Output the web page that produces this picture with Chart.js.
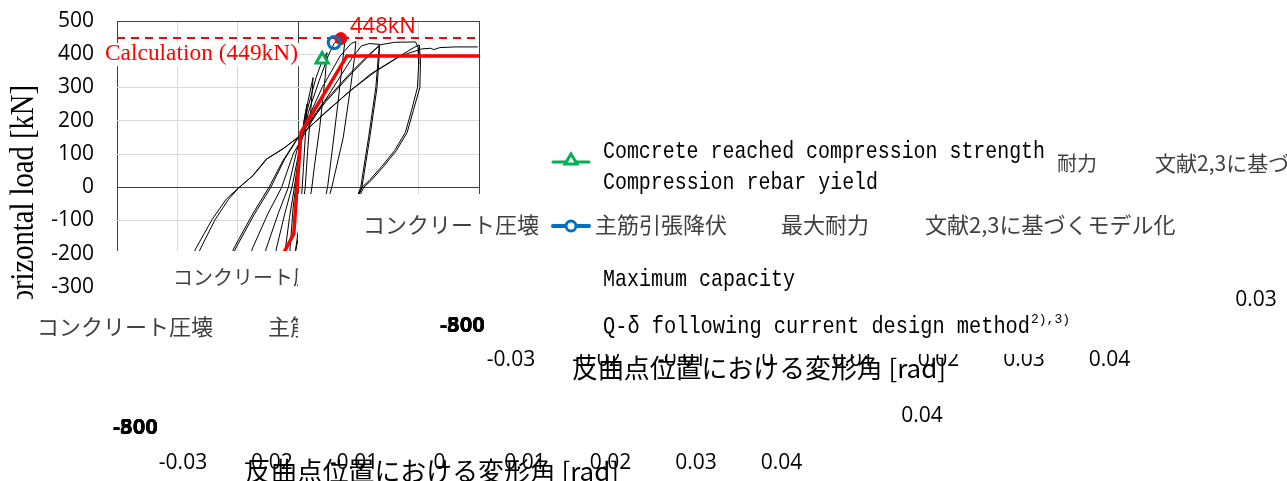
<!DOCTYPE html>
<html lang="ja">
<head>
<meta charset="UTF-8">
<title>Q-δ curve</title>
<script src="https://cdn.jsdelivr.net/npm/chart.js"></script>
<style>
  html, body { margin: 0; padding: 0; background: #fff; }
  #wrap { width: 1287px; height: 481px; }
</style>
</head>
<body>
<div id="wrap"><canvas id="graphique" width="1287" height="481"></canvas></div>
<script>
const testDrift = [
  0, 0.0002, 0.0005, 0.001, 0.0015, 0.0013, 0.0009, 0.0007, 0.0003, -0.0005, -0.0015,
  -0.0013, -0.0008, -0.0004, 0.0003, 0.0012, 0.0025,
  0.0022, 0.0016, 0.0012, 0.0004, -0.0008, -0.0025,
  -0.0024, -0.0021, -0.0014, -0.0006, 0.0004, 0.0015, 0.003, 0.004, 0.0048,
  0.0045, 0.0036, 0.0027, 0.0023, 0.0012, -0.001, -0.0045,
  -0.0041, -0.0036, -0.0022, -0.001, 0.0003, 0.0018, 0.0035, 0.005, 0.006, 0.0071, 0.0078,
  0.0074, 0.0066, 0.0056, 0.0049, 0.0035, 0.001, -0.0068,
  -0.006, -0.0053, -0.0033, -0.0016, -0.0002, 0.0015, 0.004, 0.007, 0.0088, 0.0096,
  0.0093, 0.0087, 0.0075, 0.0056, 0.004, 0.0, -0.0095,
  -0.0088, -0.0076, -0.005, -0.0027, -0.0008, 0.002, 0.0055, 0.009, 0.0105, 0.0118, 0.0135,
  0.0133, 0.0129, 0.0117, 0.0104, 0.008, 0.003, -0.0135,
  -0.0125, -0.0107, -0.0075, -0.0048, -0.0025, 0.0, 0.004, 0.0085, 0.0118, 0.0135,
  0.0134, 0.0131, 0.0119, 0.0106, 0.008, 0.003, -0.0135,
  -0.0124, -0.0104, -0.0072, -0.0045, -0.0022, 0.0, 0.0045, 0.009, 0.012, 0.0135, 0.016, 0.0195,
  0.0199, 0.02, 0.0198, 0.0188, 0.0178, 0.016, 0.0139, 0.0118, 0.0106, 0.008, 0.002, -0.02,
  -0.0185, -0.017, -0.0142, -0.0119, -0.0101, -0.0076, -0.0053, -0.0026, 0.0002, 0.004, 0.008, 0.012, 0.016, 0.0192, 0.0201,
  0.0203, 0.0202, 0.0191, 0.0181, 0.0163, 0.0142, 0.0121, 0.0109, 0.008, 0.002, -0.02,
  -0.0184, -0.0162, -0.0137, -0.0115, -0.0099, -0.0074, -0.0051, -0.0024, 0.0004, 0.0045, 0.009, 0.013, 0.017, 0.0205,
  0.022, 0.0225, 0.0235, 0.026, 0.0298
];
const testLoad = [
  0, 60, 130, 200, 250, 180, 60, 0, -100, -200, -250,
  -180, -60, 0, 110, 220, 330,
  250, 110, 0, -120, -230, -330,
  -260, -186, -90, 0, 130, 230, 330, 380, 405,
  330, 180, 60, 0, -120, -280, -395,
  -280, -186, -80, 0, 120, 230, 320, 395, 433, 447, 444,
  380, 250, 100, 0, -120, -300, -440,
  -280, -186, -80, 0, 110, 200, 300, 395, 432, 438,
  380, 300, 150, 0, -100, -300, -440,
  -300, -186, -80, 0, 100, 190, 290, 390, 425, 432, 430,
  390, 300, 150, 0, -120, -300, -430,
  -300, -186, -80, 0, 80, 150, 250, 340, 400, 425,
  380, 300, 150, 0, -120, -300, -420,
  -300, -186, -80, 0, 85, 148, 255, 345, 400, 428, 436, 437,
  420, 370, 300, 230, 165, 110, 63, 20, 0, -100, -300, -420,
  -280, -186, -96, -36, -6, 33, 84, 114, 153, 215, 280, 340, 385, 420, 428,
  380, 300, 230, 165, 110, 63, 20, 0, -110, -300, -410,
  -280, -186, -96, -36, -3, 36, 86, 117, 155, 225, 295, 350, 395, 416,
  418, 414, 420, 422, 422
];

// model following current design method (文献2,3)
const modelDrift = [-0.0081, -0.0007, 0.0005, 0.0081, 0.03];
const modelLoad = [-395, -140, 165, 395, 395];

// calculated capacity line
const calcDrift = [-0.03, 0.03];
const calcLoad = [449, 449];

// marked events
const crushPoint = [0.004, 384];   // concrete reached compression strength
const yieldPoint = [0.006, 435];   // tensile rebar yield
const maxPoint = [0.0071, 447];    // maximum capacity 448kN

const yMin = -300, yMax = 500, yStep = 100;
const xMin = -0.03, xMax = 0.03, xStep = 0.01;
const xTickLabels = ['-0.03', '-0.02', '-0.01', '0', '0.01', '0.02', '0.03', '0.04'];

function pts(xs, ys) {
  return xs.map((x, i) => ({ x: x, y: ys[i] }));
}

const NUM = '"Open Sans", "Noto Sans", sans-serif';
const JP = '"Noto Sans CJK JP", sans-serif';
const MONO = '"Liberation Mono", "DejaVu Sans Mono", monospace';

function put(c, s, x, y, font, color, align, maxW) {
  c.font = font;
  c.fillStyle = color;
  c.textAlign = align || 'left';
  c.textBaseline = 'middle';
  if (maxW) c.fillText(s, x, y, maxW);
  else c.fillText(s, x, y);
}

function legendLine(c, y, color, w, marker) {
  c.save();
  c.strokeStyle = color;
  c.lineWidth = w;
  c.lineCap = 'round';
  c.beginPath();
  c.moveTo(553, y);
  c.lineTo(589, y);
  c.stroke();
  c.lineWidth = 3;
  c.fillStyle = '#fff';
  c.beginPath();
  if (marker === 'triangle') {
    c.moveTo(571, y - 8);
    c.lineTo(577, y + 2);
    c.lineTo(565, y + 2);
    c.closePath();
  } else {
    c.arc(571, y, 5, 0, Math.PI * 2);
  }
  c.fill();
  c.stroke();
  c.restore();
}

// grid colour: axes at 0 and the plot frame darker
function gridColor(ctx) {
  const v = ctx.tick.value;
  if (Math.abs(v) < 1e-9) return '#404040';
  if (ctx.scale.axis === 'x' && Math.abs(Math.abs(v) - 0.03) < 1e-9) return '#404040';
  if (ctx.scale.axis === 'y' && Math.abs(v - yMax) < 1e-9) return '#404040';
  return '#d9d9d9';
}

const decor = {
  id: 'decor',
  beforeDraw(chart) {
    const c = chart.ctx;
    c.save();
    c.fillStyle = '#fff';
    c.fillRect(0, 0, chart.width, chart.height);
    c.restore();
  },
  afterDraw(chart) {
    const c = chart.ctx;
    c.save();

    // white boxes that hide the lower part of the plot
    c.fillStyle = '#fff';
    c.fillRect(100, 251, 198, 45);
    c.fillRect(298, 194, 1000, 300);

    // y axis title (cut at the bottom)
    c.save();
    c.beginPath();
    c.rect(0, 0, 100, 299);
    c.clip();
    c.translate(33, 85);
    c.rotate(-Math.PI / 2);
    c.font = '34px "Liberation Serif", serif';
    c.fillStyle = '#000';
    c.textAlign = 'right';
    c.textBaseline = 'alphabetic';
    c.fillText('Horizontal load [kN]', 0, 0, 240);
    c.restore();

    // annotations
    c.fillStyle = '#fff';
    c.fillRect(103, 43, 196, 23);
    put(c, 'Calculation (449kN)', 105, 54, '24px "Liberation Serif", serif', '#ff0000', 'left', 193);
    put(c, '448kN', 350, 27, '22px ' + NUM, '#ff0000');

    // stray labels cut at x = 298
    c.save();
    c.beginPath();
    c.rect(0, 0, 298, 481);
    c.clip();
    put(c, 'コンクリート圧壊', 173, 277, '20px ' + JP, '#404040');
    put(c, '主筋引張降伏', 268, 327, '22px ' + JP, '#404040');
    c.restore();
    put(c, 'コンクリート圧壊', 37, 327, '22px ' + JP, '#404040');

    // legend, first line
    legendLine(c, 162, '#00b050', 3, 'triangle');
    put(c, 'Comcrete reached compression strength', 603, 152, '24px ' + MONO, '#000', 'left', 442);
    put(c, 'Compression rebar yield', 603, 183, '24px ' + MONO, '#000', 'left', 275);
    put(c, '耐力', 1057, 163, '20px ' + JP, '#404040');
    put(c, '文献2,3に基づくモデル化', 1155, 163, '21px ' + JP, '#404040');

    // legend, japanese line
    put(c, 'コンクリート圧壊', 363, 225, '22px ' + JP, '#404040');
    legendLine(c, 226, '#0070c0', 4, 'circle');
    put(c, '主筋引張降伏', 595, 225, '22px ' + JP, '#404040');
    put(c, '最大耐力', 781, 225, '22px ' + JP, '#404040');
    put(c, '文献2,3に基づくモデル化', 925, 225, '22px ' + JP, '#404040');

    put(c, 'Maximum capacity', 603, 280, '24px ' + MONO, '#000', 'left', 192);
    put(c, 'Q-δ following current design method', 603, 327, '24px ' + MONO, '#000', 'left', 427);
    put(c, '2),3)', 1031, 320, '13px ' + MONO, '#000', 'left', 40);
    put(c, '0.03', 1256, 300, '21px ' + NUM, '#000', 'center');

    // overlapped bold labels
    ['-500', '-800', '-300'].forEach(s => {
      put(c, s, 440, 326, 'bold 22px ' + NUM, '#000');
      put(c, s, 113, 428, 'bold 22px ' + NUM, '#000');
    });

    // x tick rows
    xTickLabels.forEach((s, i) => {
      put(c, s, 511 + i * 85.5, 360, '21px ' + NUM, '#000', 'center');
      put(c, s, 183 + i * 85.5, 463, '21px ' + NUM, '#000', 'center');
    });
    c.fillStyle = '#fff';
    c.fillRect(560, 342, 495, 12);
    put(c, '0.04', 922, 416, '21px ' + NUM, '#000', 'center');

    // x axis titles
    put(c, '反曲点位置における変形角 [rad]', 572, 368, '26px ' + JP, '#000', 'left', 374);
    put(c, '反曲点位置における変形角 [rad]', 245, 471, '26px ' + JP, '#000', 'left', 374);

    c.restore();
  }
};

const chart = new Chart(document.getElementById('graphique'), {
  type: 'scatter',
  data: {
    datasets: [
      {
        label: '主筋引張降伏',
        data: pts([yieldPoint[0]], [yieldPoint[1]]),
        pointStyle: 'circle',
        pointRadius: 6,
        pointBorderWidth: 3,
        borderColor: '#0070c0',
        backgroundColor: 'rgba(255,255,255,0)',
        order: 0
      },
      {
        label: '最大耐力',
        data: pts([maxPoint[0]], [maxPoint[1]]),
        pointStyle: 'circle',
        pointRadius: 6,
        pointBorderWidth: 1,
        borderColor: '#ff0000',
        backgroundColor: '#ff0000',
        order: 1
      },
      {
        label: 'コンクリート圧壊',
        data: pts([crushPoint[0]], [crushPoint[1]]),
        pointStyle: 'triangle',
        pointRadius: 7,
        pointBorderWidth: 3,
        borderColor: '#00b050',
        backgroundColor: '#fff',
        order: 2
      },
      {
        label: '文献2,3に基づくモデル化',
        data: pts(modelDrift, modelLoad),
        showLine: true,
        borderColor: '#ff0000',
        borderWidth: 3.5,
        pointRadius: 0,
        tension: 0,
        order: 3
      },
      {
        label: 'Calculation',
        data: pts(calcDrift, calcLoad),
        showLine: true,
        borderColor: '#ff0000',
        borderWidth: 2,
        borderDash: [8, 6],
        pointRadius: 0,
        order: 4
      },
      {
        label: 'test',
        data: pts(testDrift, testLoad),
        showLine: true,
        borderColor: '#000',
        borderWidth: 1,
        pointRadius: 0,
        tension: 0,
        order: 5
      }
    ]
  },
  options: {
    responsive: false,
    animation: false,
    devicePixelRatio: 1,
    layout: { padding: { left: 0, top: 21, right: 808, bottom: 194 } },
    plugins: { legend: { display: false }, tooltip: { enabled: false } },
    scales: {
      x: {
        type: 'linear',
        min: xMin,
        max: xMax,
        ticks: { display: false, stepSize: xStep },
        grid: { color: gridColor, drawTicks: false },
        border: { display: false },
        afterFit(s) { s.height = 0; }
      },
      y: {
        min: yMin,
        max: yMax,
        ticks: { stepSize: yStep, color: '#000', font: { family: 'Open Sans', size: 21 }, padding: 3 },
        grid: { color: gridColor, drawTicks: true, tickLength: 20, tickColor: 'rgba(0,0,0,0)' },
        border: { display: false },
        afterFit(s) { s.width = 117; }
      }
    }
  },
  plugins: [decor]
});
</script>
</body>
</html>
